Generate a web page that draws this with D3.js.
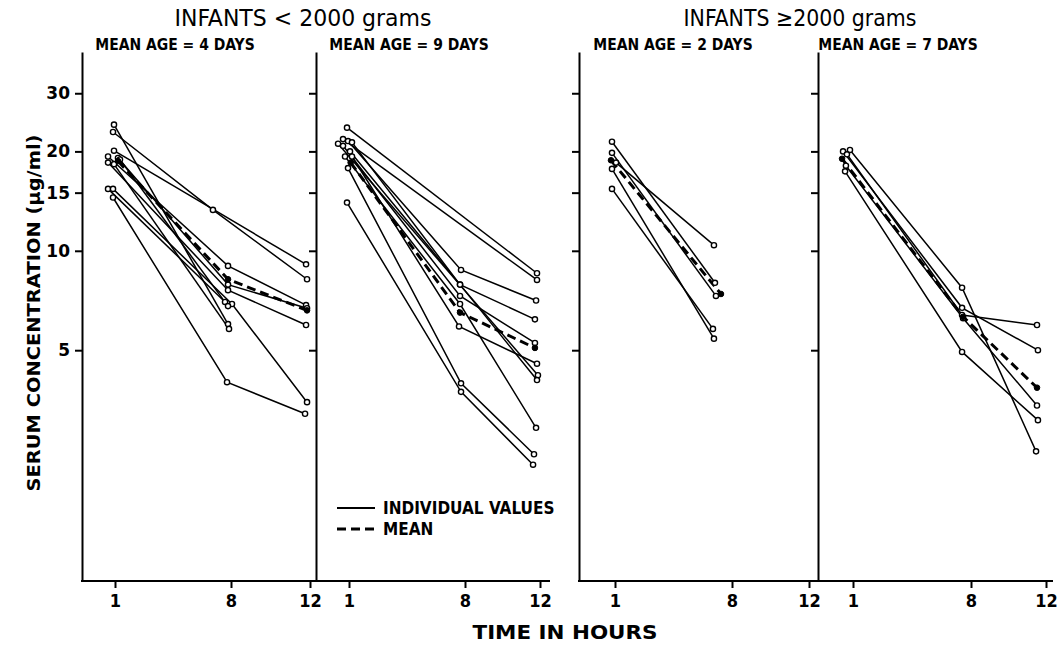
<!DOCTYPE html>
<html><head><meta charset="utf-8">
<script src="https://cdn.jsdelivr.net/npm/d3@7"></script>
<style>
html,body{margin:0;padding:0;background:#fff;}
svg{display:block;}
</style></head>
<body>
<svg id="chart" width="1057" height="645"></svg>
<script>
// ---------- data ----------
const yTickValues = [5, 10, 15, 20, 30];
const xTickValues = [1, 8, 12];
const groupTitles = ["INFANTS < 2000 grams", "INFANTS \u22652000 grams"];
const panelTitles = ["MEAN AGE = 4 DAYS", "MEAN AGE = 9 DAYS", "MEAN AGE = 2 DAYS", "MEAN AGE = 7 DAYS"];
const legendLabels = ["INDIVIDUAL VALUES", "MEAN"];
const xTitle = "TIME IN HOURS";
const yTitle = "SERUM CONCENTRATION (\u03bcg/ml)";

// each subject: [hour, µg/ml] pairs
const p1Individuals = [
  [[0.94, 24.1], [7.82, 6.0]],
  [[0.88, 22.9], [6.91, 13.3], [11.85, 8.2]],
  [[0.94, 20.1], [11.8, 9.1]],
  [[0.58, 19.3], [7.82, 9.0], [11.8, 6.85]],
  [[1.18, 19.1], [7.82, 7.9], [11.85, 6.7]],
  [[0.58, 18.5], [7.82, 7.6], [11.8, 5.96]],
  [[0.94, 18.3], [7.88, 5.8]],
  [[0.58, 15.4], [7.64, 7.0]],
  [[0.88, 15.4], [8.05, 6.9], [11.85, 3.48]],
  [[0.88, 14.5], [7.76, 4.0], [11.75, 3.21]],
  [[1.30, 18.9], [7.82, 6.8]]
];
const p1Mean = [[1.18, 18.7], [7.82, 8.2], [11.85, 6.6]];

const p2Individuals = [
  [[0.88, 23.6], [11.84, 8.55]],
  [[0.64, 21.8], [11.84, 8.16]],
  [[0.94, 21.5], [7.76, 8.75], [11.79, 7.07]],
  [[1.18, 21.3], [7.7, 7.9], [11.73, 6.2]],
  [[0.64, 20.8], [7.7, 7.3], [11.73, 5.26]],
  [[0.76, 19.3], [7.7, 6.9], [11.79, 2.91]],
  [[1.18, 19.3], [7.64, 5.9], [11.84, 4.55]],
  [[0.34, 21.1], [11.89, 4.2]],
  [[1.06, 20.0], [7.7, 7.9], [11.84, 4.06]],
  [[0.94, 17.8], [7.76, 3.97], [11.68, 2.42]],
  [[0.88, 14.0], [7.76, 3.74], [11.63, 2.25]]
];
const p2Mean = [[1.1, 18.5], [7.7, 6.5], [11.73, 5.08]];

const p3Individuals = [
  [[0.82, 21.4], [6.98, 8.0]],
  [[0.82, 19.8], [7.04, 7.3]],
  [[1.06, 18.5], [6.92, 10.4]],
  [[0.82, 17.7], [6.92, 5.42]],
  [[0.82, 15.4], [6.86, 5.8]]
];
const p3Mean = [[0.76, 18.8], [7.34, 7.4]];

const p4Individuals = [
  [[0.82, 20.2], [7.47, 7.73], [11.47, 2.47]],
  [[0.41, 20.0], [7.47, 6.72], [11.57, 5.0]],
  [[0.64, 19.6], [7.47, 6.39], [11.52, 5.96]],
  [[0.58, 18.1], [7.53, 6.25], [11.52, 3.40]],
  [[0.53, 17.4], [7.47, 4.94], [11.57, 3.07]]
];
const p4Mean = [[0.35, 19.0], [7.53, 6.31], [11.52, 3.85]];

const panelIndividuals = [p1Individuals, p2Individuals, p3Individuals, p4Individuals];
const panelMeans = [p1Mean, p2Mean, p3Mean, p4Mean];

// ---------- layout ----------
const svg = d3.select("#chart");
const yTop = 52, yBottom = 581;
const panels = [
  {left: 82,  right: 316, tickPos: [115, 231, 310], titleX: 175},
  {left: 316, right: 550, tickPos: [349, 465, 540], titleX: 409},
  {left: 579, right: 818, tickPos: [615, 732, 809], titleX: 673},
  {left: 818, right: 1053, tickPos: [853, 971, 1046], titleX: 898}
];

const y = d3.scaleLog().domain([1, 40]).range([yBottom, yTop]);

const fontCond = '"Liberation Sans Narrow","DejaVu Sans Condensed",sans-serif';
const fontBold = '"DejaVu Sans","Liberation Sans",sans-serif';

panels.forEach((p, i) => {
  const x = d3.scaleLinear().domain(xTickValues).range(p.tickPos);
  const g = svg.append("g");

  const yAxis = d3.axisLeft(y).tickValues(yTickValues).tickSize(7).tickSizeOuter(0).tickPadding(5)
    .tickFormat(i === 0 ? d3.format("d") : () => "");
  const ya = g.append("g").attr("transform", `translate(${p.left},0)`).call(yAxis);
  ya.select(".domain").attr("stroke-width", 2);
  ya.selectAll(".tick line").attr("stroke-width", 2);
  ya.selectAll(".tick text").attr("font-family", fontBold).attr("font-weight", "bold")
    .attr("font-size", 17).attr("fill", "#000");

  const xAxis = d3.axisBottom(x).tickValues(xTickValues).tickSize(7).tickSizeOuter(0).tickPadding(6)
    .tickFormat(d3.format("d"));
  const xa = g.append("g").attr("transform", `translate(0,${yBottom})`).call(xAxis);
  xa.select(".domain").remove();
  xa.selectAll(".tick line").attr("stroke-width", 2);
  xa.selectAll(".tick text").attr("font-family", fontCond).attr("font-weight", "bold")
    .attr("font-size", 18).attr("fill", "#000");
  g.append("line").attr("x1", p.left - 1).attr("x2", p.right).attr("y1", yBottom).attr("y2", yBottom)
    .attr("stroke", "#000").attr("stroke-width", 2);

  svg.append("text").attr("x", p.titleX).attr("y", 50).attr("text-anchor", "middle")
    .attr("font-family", fontCond).attr("font-weight", "bold").attr("font-size", 15.5)
    .text(panelTitles[i]);

  const line = d3.line().x(d => x(d[0])).y(d => y(d[1]));

  panelIndividuals[i].forEach(s => {
    g.append("path").datum(s).attr("d", line).attr("fill", "none")
      .attr("stroke", "#000").attr("stroke-width", 1.5);
  });
  g.append("path").datum(panelMeans[i]).attr("d", line).attr("fill", "none")
    .attr("stroke", "#000").attr("stroke-width", 3).attr("stroke-dasharray", "9,5");

  panelIndividuals[i].forEach(s => {
    g.selectAll(null).data(s).enter().append("circle")
      .attr("cx", d => x(d[0])).attr("cy", d => y(d[1])).attr("r", 2.6)
      .attr("fill", "#fff").attr("stroke", "#000").attr("stroke-width", 1.4);
  });
  g.selectAll(null).data(panelMeans[i]).enter().append("circle")
    .attr("cx", d => x(d[0])).attr("cy", d => y(d[1])).attr("r", 2.8)
    .attr("fill", "#000").attr("stroke", "#000").attr("stroke-width", 1);
});

// group titles
svg.append("text").attr("x", 303).attr("y", 26).attr("text-anchor", "middle")
  .attr("font-family", fontCond).attr("font-size", 23)
  .attr("textLength", 257).attr("lengthAdjust", "spacingAndGlyphs").text(groupTitles[0]);
svg.append("text").attr("x", 800).attr("y", 26).attr("text-anchor", "middle")
  .attr("font-family", fontCond).attr("font-size", 23)
  .attr("textLength", 233).attr("lengthAdjust", "spacingAndGlyphs").text(groupTitles[1]);

// axis titles
svg.append("text").attr("x", 565).attr("y", 639).attr("text-anchor", "middle")
  .attr("font-family", fontCond).attr("font-weight", "bold").attr("font-size", 19)
  .attr("textLength", 185).attr("lengthAdjust", "spacingAndGlyphs").text(xTitle);
svg.append("text").attr("transform", "translate(40,313) rotate(-90)").attr("text-anchor", "middle")
  .attr("font-family", fontBold).attr("font-weight", "bold").attr("font-size", 18)
  .attr("textLength", 357).attr("lengthAdjust", "spacingAndGlyphs").text(yTitle);

// legend
const leg = svg.append("g");
leg.append("line").attr("x1", 337).attr("x2", 375).attr("y1", 508).attr("y2", 508)
  .attr("stroke", "#000").attr("stroke-width", 2);
leg.append("line").attr("x1", 337).attr("x2", 375).attr("y1", 529).attr("y2", 529)
  .attr("stroke", "#000").attr("stroke-width", 3).attr("stroke-dasharray", "9,5");
leg.append("text").attr("x", 383).attr("y", 514).attr("font-family", fontCond).attr("font-weight", "bold")
  .attr("font-size", 17).text(legendLabels[0]);
leg.append("text").attr("x", 383).attr("y", 535).attr("font-family", fontCond).attr("font-weight", "bold")
  .attr("font-size", 17).text(legendLabels[1]);
</script>
</body></html>
